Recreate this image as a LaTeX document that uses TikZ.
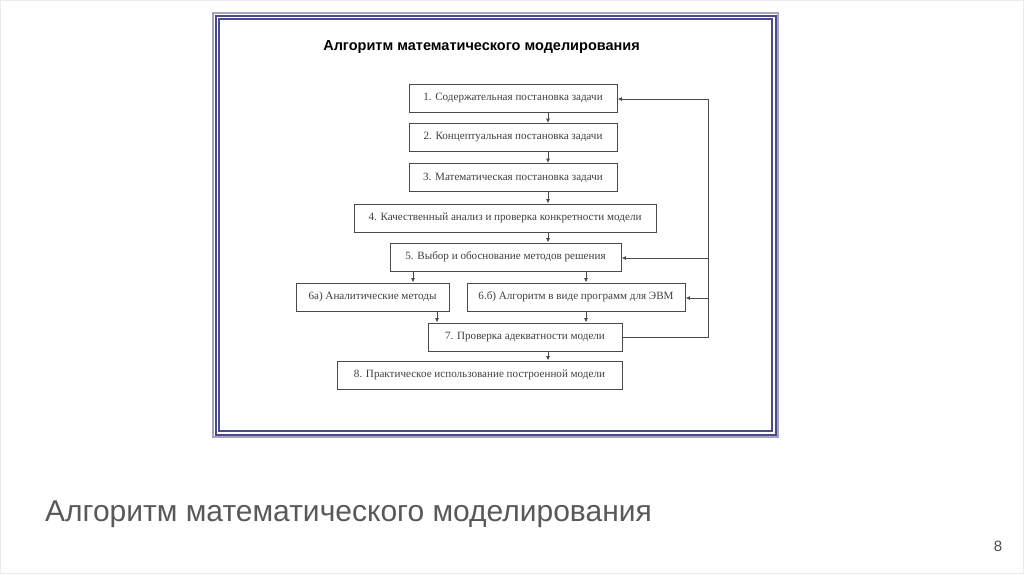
\documentclass[tikz,border=0pt]{standalone}
\usepackage{fontspec}
\setmainfont{Liberation Serif}
\newfontfamily\headfont{Liberation Sans}
\usepackage{xcolor}
\usetikzlibrary{arrows.meta, positioning, calc}

\definecolor{framedark}{HTML}{4B4B8C}
\definecolor{framelight}{HTML}{A3A3C2}
\definecolor{lineclr}{HTML}{4A4A4A}
\definecolor{captionclr}{HTML}{595959}

\begin{document}
\begin{tikzpicture}[x=1pt, y=-1pt,
    stage/.style={draw=lineclr, line width=0.9pt, minimum height=28pt, inner sep=0pt,
                  font=\fontsize{11.1}{13}\selectfont, text=black!75},
    arr/.style={draw=lineclr, line width=0.9pt, -{Latex[length=4.5pt, width=4pt]}},
    link/.style={draw=lineclr, line width=0.9pt}]

    % slide area
    \useasboundingbox (0,0) rectangle (1024,574);
    \fill[white] (0,0) rectangle (1024,574);
    \draw[black!8, line width=1pt] (0.5,0.5) rectangle (1023.5,573.5);

    % picture frame
    \draw[framelight, line width=2pt] (213,13) rectangle (778,437);
    \draw[framedark, line width=2pt] (215.5,15.5) rectangle (775.5,434.5);
    \draw[framedark, line width=1.2pt] (219,19) rectangle (772,431);

    \node[font=\headfont\bfseries\fontsize{14.5}{17}\selectfont] (title) at (481.5,47) {Алгоритм математического моделирования};

    % stages
    \node[stage, minimum width=208pt] (s1) at (513,98) {1. Содержательная постановка задачи};
    \node[stage, minimum width=208pt] (s2) at (513,137.5) {2. Концептуальная постановка задачи};
    \node[stage, minimum width=208pt] (s3) at (513,177.5) {3. Математическая постановка задачи};
    \node[stage, minimum width=302pt] (s4) at (505,218) {4. Качественный анализ и проверка конкретности модели};
    \node[stage, minimum width=231pt] (s5) at (505.5,257) {5. Выбор и обоснование методов решения};
    \node[stage, minimum width=153pt] (s6a) at (372.5,297) {6а) Аналитические методы};
    \node[stage, minimum width=218pt] (s6b) at (576,297) {6.б) Алгоритм в виде программ для ЭВМ};
    \node[stage, minimum width=194pt] (s7) at (525,337) {7. Проверка адекватности модели};
    \node[stage, minimum width=285pt] (s8) at (479.5,375) {8. Практическое использование построенной модели};

    \coordinate (spine) at (548,0);
    \coordinate (left) at (413,0);
    \coordinate (leftin) at (437,0);
    \coordinate (right) at (586,0);
    \coordinate (back) at (708,0);

    % main chain
    \draw[arr] (s1.south -| spine) -- (s2.north -| spine);
    \draw[arr] (s2.south -| spine) -- (s3.north -| spine);
    \draw[arr] (s3.south -| spine) -- (s4.north -| spine);
    \draw[arr] (s4.south -| spine) -- (s5.north -| spine);
    \draw[arr] (s5.south -| left) -- (s6a.north -| left);
    \draw[arr] (s5.south -| right) -- (s6b.north -| right);
    \draw[arr] (s6a.south -| leftin) -- (s7.north -| leftin);
    \draw[arr] (s6b.south -| right) -- (s7.north -| right);
    \draw[arr] (s7.south -| spine) -- (s8.north -| spine);

    % feedback
    \draw[link] (s7.east) -- (s7.east -| back) -- ($(s1.east -| back)+(0,1)$);
    \draw[arr] ($(s1.east -| back)+(0,1)$) -- ($(s1.east)+(0,1)$);
    \draw[arr] ($(s5.east -| back)+(0,1)$) -- ($(s5.east)+(0,1)$);
    \draw[arr] ($(s6b.east -| back)+(0,1)$) -- ($(s6b.east)+(0,1)$);

    % slide caption
    \node[anchor=base west, inner sep=0pt, text=captionclr, font=\headfont\fontsize{30}{35}\selectfont] (caption) at (45,521) {Алгоритм математического моделирования};
    \node[anchor=base, inner sep=0pt, text=black!70, font=\headfont\fontsize{15}{18}\selectfont] (page) at (998,551) {8};

\end{tikzpicture}
\end{document}
